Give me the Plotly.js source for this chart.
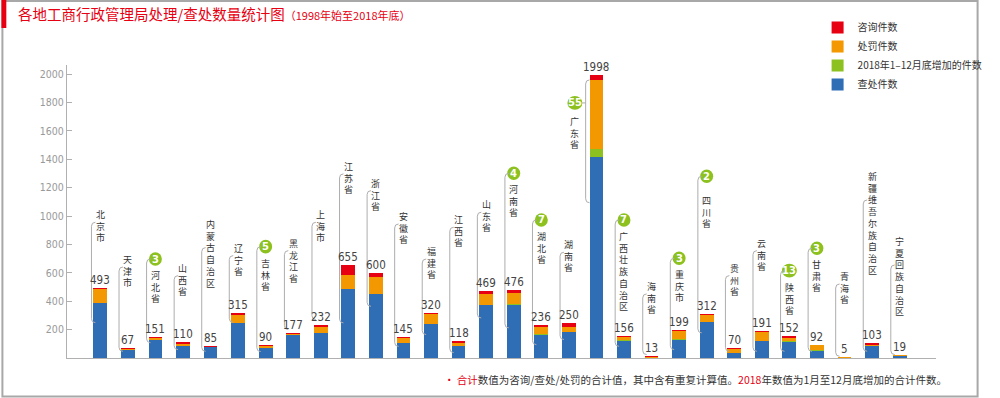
<!DOCTYPE html>
<html>
<head>
<meta charset="utf-8">
<script src="https://cdn.plot.ly/plotly-3.0.1.min.js"></script>
<style>html,body{margin:0;padding:0;background:#fff;}#chart{width:1000px;height:398px;}</style>
</head>
<body>
<div id="chart"></div>
<script>
// ---------- data ----------
const provinces = ['北京市','天津市','河北省','山西省','内蒙古自治区','辽宁省','吉林省','黑龙江省','上海市','江苏省','浙江省','安徽省','福建省','江西省','山东省','河南省','湖北省','湖南省','广东省','广西壮族自治区','海南省','重庆市','四川省','贵州省','云南省','陕西省','甘肃省','青海省','新疆维吾尔族自治区','宁夏回族自治区'];
const totals   = [493,67,151,110,85,315,90,177,232,655,600,145,320,118,469,476,236,250,1998,156,13,199,312,70,191,152,92,5,103,19];
const chachu   = [388,58,125,87,75,245,68,160,177,489,453,108,242,88,376,374,163,185,1420,122,2,128,255,38,120,110,50,0,88,12];
const added2018= [0,0,3,0,0,0,5,0,0,0,0,0,0,0,0,4,7,0,55,7,0,3,2,0,0,13,3,0,0,0];
const chufa    = [98,7,15,13,6,60,15,10,45,93,117,35,66,18,75,78,45,35,485,17,5,58,45,27,60,18,38,4,5,7];
const zixun    = [7,2,8,10,4,10,2,7,10,73,30,2,12,12,18,20,21,30,38,10,6,10,10,5,11,11,4,1,10,0];
const yTicks   = [200,400,600,800,1000,1200,1400,1600,1800,2000];
const seriesNames = ['查处件数','2018年1–12月底增加的件数','处罚件数','咨询件数'];

// ---------- label layout (axis units, not data) ----------
const nameTop    = [1020,705,592,644,954,785,679,820,1020,1361,1243,1008,761,985,1091,1196,867,809,1678,867,515,597,1119,644,820,510,668,585,1290,832];
const bracketLow = [249,47,108,59,47,251,45,200,270,247,364,82,165,38,282,212,94,130,1094,82,24,59,177,47,47,47,47,12,47,24];

// ---------- geometry ----------
const W=1000, H=398, ML=67, MR=45, MT=65, MB=40;
const PW=W-ML-MR, PH=H-MT-MB;
const XMIN=-1.207, XMAX=30.32, YMAX=2065;
const pxX=(XMAX-XMIN)/PW, pxU=YMAX/PH;
const px2pX = px => (px-ML)/PW;
const px2pY = py => (MT+PH-py)/PH;

const C = {blue:'#2f6db5', green:'#8cc11f', orange:'#f39800', red:'#e60012'};
const CJK = '"Noto Sans CJK SC", "Noto Sans", sans-serif';
const NUM = '"Liberation Sans Narrow", "DejaVu Sans Condensed", Roboto, sans-serif';

const xs = provinces.map((_,i)=>i);
const mk = (name, y, color) => ({type:'bar', name, x:xs, y, width:0.5, marker:{color, line:{width:0}}, hoverinfo:'y+name', customdata:provinces});
const traces = [
  mk(seriesNames[0], chachu, C.blue),
  mk(seriesNames[1], added2018, C.green),
  mk(seriesNames[2], chufa, C.orange),
  mk(seriesNames[3], zixun, C.red)
];

const annotations = [];
const shapes = [];
const NAME_FS = 9;
const LINE = NAME_FS*1.3;
const BR = 4;
const LEAD = '#adadad';
function bracket(xc, top, bot){
  return `M ${xc+BR*pxX},${top} Q ${xc},${top} ${xc},${top-BR*pxU} L ${xc},${bot+BR*pxU} Q ${xc},${bot} ${xc+BR*pxX},${bot}`;
}
provinces.forEach((p,i)=>{
  const special = (p==='广东省');
  const nameDx = special ? -22 : 0;
  const chars = Array.from(p);
  // total value
  annotations.push({x:i, y:totals[i], text:String(totals[i]), showarrow:false, yanchor:'bottom', yshift:0, borderpad:0,
    font:{family:NUM, size:11.5, color:'#444'}});
  // vertical name (one character per line)
  annotations.push({x:i, y:nameTop[i], xshift:nameDx, yshift:LINE/2, yanchor:'top', borderpad:0,
    text:chars.join('<br>'), showarrow:false, font:{family:CJK, size:NAME_FS, color:'#333'}});
  // badge
  let badgeY = null;
  if (added2018[i] > 0) {
    const gap = special ? 17 : (p==='四川省' ? 23 : 15);
    badgeY = nameTop[i] + gap*pxU;
    const bx = i + nameDx*pxX;
    const rr = added2018[i] >= 10 ? 7.5 : 6.5;
    shapes.push({type:'circle', xref:'x', yref:'y', xsizemode:'pixel', ysizemode:'pixel',
      xanchor:bx, yanchor:badgeY, x0:-rr, x1:rr, y0:-6.8, y1:6.8, fillcolor:C.green, line:{width:0}, layer:'above'});
    annotations.push({x:bx, y:badgeY, text:'<b>'+added2018[i]+'</b>', showarrow:false, borderpad:0,
      font:{family:'"DejaVu Sans", sans-serif', size:10, color:'#fff'}});
  }
  // leader bracket
  let xc, top;
  if (special) {
    xc = i - 11*pxX;
    top = nameTop[i] + 40*pxU;
    if (badgeY !== null) {
      shapes.push({type:'line', xref:'x', yref:'y', x0:i+(nameDx+7.5)*pxX, x1:xc, y0:badgeY, y1:badgeY,
        line:{color:LEAD, width:1}});
    }
  } else {
    xc = i - 9*pxX;
    top = badgeY !== null ? badgeY : nameTop[i] - (chars.length >= 6 ? 25 : 9)*pxU;
  }
  shapes.push({type:'path', xref:'x', yref:'y', path:bracket(xc, top, bracketLow[i]),
    line:{color:LEAD, width:1}});
});

// frame and title marker
shapes.push({type:'rect', xref:'paper', yref:'paper', x0:px2pX(1), x1:px2pX(997.5), y0:px2pY(1), y1:px2pY(396.5),
  line:{color:'#a8a8a8', width:2}, fillcolor:'rgba(0,0,0,0)', layer:'below'});
shapes.push({type:'rect', xref:'paper', yref:'paper', x0:px2pX(0), x1:px2pX(5), y0:px2pY(0), y1:px2pY(28),
  line:{width:0}, fillcolor:C.red});

// footnote
annotations.push({xref:'paper', yref:'paper', x:px2pX(968), y:px2pY(379), xanchor:'right', yanchor:'middle', showarrow:false,
  text:'<span style="color:#e60012">• 合计</span>数值为咨询/查处/处罚的合计值，其中含有重复计算值。<span style="color:#e60012">2018</span>年数值为1月至12月底增加的合计件数。',
  font:{family:CJK, size:10.5, color:'#333'}});

const layout = {
  width:W, height:H,
  margin:{l:ML, r:MR, t:MT, b:MB, pad:0},
  paper_bgcolor:'#fff', plot_bgcolor:'#fff',
  barmode:'stack', bargap:0.5,
  showlegend:true,
  legend:{x:px2pX(834), y:px2pY(13), xanchor:'left', yanchor:'top', traceorder:'reversed',
    font:{family:CJK, size:10, color:'#333'}, bgcolor:'rgba(0,0,0,0)', itemclick:false},
  title:{text:'各地工商行政管理局处理/查处数量统计图<span style="font-size:11px">（1998年始至2018年底）</span>',
    x:0.018, xanchor:'left', xref:'container', y:1-15/H, yanchor:'middle', yref:'container',
    font:{family:CJK, size:14.5, color:C.red}},
  xaxis:{range:[XMIN, XMAX], showticklabels:false, ticks:'', showgrid:false, zeroline:false,
    showline:true, linecolor:'#b0b0b0', linewidth:1, fixedrange:true},
  yaxis:{range:[0, YMAX], tickvals:yTicks, ticktext:yTicks.map(String), ticks:'inside', ticklen:5, tickcolor:'#b0b0b0',
    showgrid:false, zeroline:false, showline:true, linecolor:'#b0b0b0', linewidth:1,
    tickfont:{family:NUM, size:10.5, color:'#999'}, fixedrange:true},
  annotations, shapes
};
Plotly.newPlot('chart', traces, layout, {displayModeBar:false, staticPlot:true});
</script>
</body>
</html>
